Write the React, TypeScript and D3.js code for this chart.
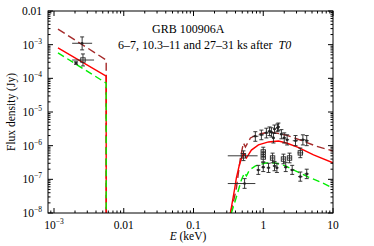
import React from 'react';
import * as d3 from 'd3';

// model curves [E keV, flux Jy]
const uvBrown = [[1.14e-3, 2.9e-3], [5.6e-3, 3.5e-4], [5.6e-3, 1e-9]];
const uvRed = [[1.14e-3, 8e-4], [5.6e-3, 1.17e-4], [5.6e-3, 1e-9]];
const uvGreen = [[1.14e-3, 5.7e-4], [5.6e-3, 7.2e-5], [5.6e-3, 1e-9]];

const xrBrown = [[0.338, 1e-8], [0.373, 2.1e-8], [0.412, 5.5e-8], [0.47, 4.3e-7], [0.52, 1.2e-6], [0.555, 9.1e-7],
  [0.655, 1.69e-6], [0.853, 2.2e-6], [1.27, 2.55e-6], [2.08, 2.08e-6], [3.42, 1.47e-6], [5.62, 9.8e-7], [10, 6.95e-7]];
const xrRed = [[0.338, 1e-8], [0.386, 4.8e-8], [0.412, 1.1e-7], [0.455, 2.7e-7], [0.52, 6.1e-7], [0.574, 4.3e-7],
  [0.612, 5.3e-7], [0.676, 7.4e-7], [0.853, 1.05e-6], [1.19, 1.29e-6], [1.65, 1.38e-6], [2.15, 1.2e-6],
  [3.1, 9.1e-7], [5.26, 5.3e-7], [10, 3.1e-7]];
const xrGreen = [[0.349, 1e-8], [0.399, 2.4e-8], [0.441, 4.8e-8], [0.486, 9.6e-8], [0.537, 1.55e-7], [0.574, 1.26e-7],
  [0.634, 1.9e-7], [0.773, 2.5e-7], [1.08, 3.06e-7], [1.5, 3.06e-7], [2.08, 2.5e-7], [2.9, 1.77e-7],
  [4.46, 1.17e-7], [6.64, 8.3e-8], [10, 5.5e-8]];

// data points [E, F, Elo, Ehi, Flo, Fhi]
const earlyPts = [
  [2.53e-3, 1.1e-3, 1.82e-3, 3.52e-3, 7e-4, 1.7e-3],
  [0.77, 1.9e-6, 0.7, 0.85, 1.35e-6, 2.6e-6], [0.94, 2.1e-6, 0.86, 1.02, 1.5e-6, 2.9e-6],
  [1.11, 2.4e-6, 1.03, 1.2, 1.7e-6, 3.3e-6], [1.23, 2.7e-6, 1.16, 1.3, 2e-6, 3.6e-6],
  [1.31, 2.5e-6, 1.25, 1.38, 1.8e-6, 3.4e-6], [1.45, 3.1e-6, 1.38, 1.52, 2.3e-6, 4.1e-6],
  [1.6, 3.4e-6, 1.52, 1.68, 2.6e-6, 4.4e-6], [1.65, 3.6e-6, 1.57, 1.74, 2.8e-6, 4.7e-6],
  [1.82, 2.2e-6, 1.72, 1.93, 1.6e-6, 3e-6], [1.4, 1.7e-6, 1.33, 1.47, 1.2e-6, 2.4e-6],
  [2.0, 1.7e-6, 1.88, 2.12, 1.2e-6, 2.4e-6], [2.2, 1.5e-6, 2.08, 2.35, 1.05e-6, 2.1e-6],
  [2.9, 1.4e-6, 2.65, 3.15, 1e-6, 2e-6], [3.7, 1.5e-6, 3.35, 4.05, 1.05e-6, 2.1e-6],
  [4.2, 1.4e-6, 3.95, 4.5, 1e-6, 2e-6],
];
const midPts = [
  [2.6e-3, 3.5e-4, 1.82e-3, 3.75e-3, 2.33e-4, 5.3e-4],
  [0.52, 5e-7, 0.31, 0.83, 3.6e-7, 7e-7], [3.4, 6.1e-7, 3.1, 3.75, 4.4e-7, 8.5e-7],
  [1.0, 6.5e-7, 0.94, 1.06, 4.7e-7, 9e-7], [1.0, 4.6e-7, 0.94, 1.06, 3.3e-7, 6.4e-7],
  [1.36, 4.3e-7, 1.28, 1.45, 3.1e-7, 6e-7], [1.95, 4.0e-7, 1.84, 2.07, 2.9e-7, 5.6e-7],
  [2.38, 4.3e-7, 2.22, 2.55, 3.1e-7, 6e-7],
];
const latePts = [
  [2.07e-3, 2.86e-4, 1.95e-3, 2.2e-3, 2.6e-4, 3.1e-4],
  [0.54, 7.5e-8, 0.31, 0.77, 5.4e-8, 1.05e-7], [0.85, 1.9e-7, 0.8, 0.91, 1.4e-7, 2.6e-7],
  [1.0, 2.3e-7, 0.94, 1.06, 1.7e-7, 3.2e-7], [1.19, 2.2e-7, 1.12, 1.26, 1.6e-7, 3e-7],
  [1.45, 2.5e-7, 1.37, 1.54, 1.8e-7, 3.4e-7], [1.57, 2.2e-7, 1.49, 1.66, 1.6e-7, 3e-7],
  [2.1, 2.3e-7, 1.98, 2.22, 1.7e-7, 3.2e-7], [2.6, 1.9e-7, 2.43, 2.78, 1.4e-7, 2.6e-7],
  [3.4, 1.2e-7, 3.15, 3.65, 8.8e-8, 1.65e-7], [4.2, 1.45e-7, 3.9, 4.5, 1.05e-7, 2e-7],
];

const xMajor = [1e-3, 0.01, 0.1, 1, 10];
const xLabels = ['10|−3', '0.01', '0.1', '1', '10'];
const yMajor = [1e-2, 1e-3, 1e-4, 1e-5, 1e-6, 1e-7, 1e-8];
const yLabels = ['0.01', '10|−3', '10|−4', '10|−5', '10|−6', '10|−7', '10|−8'];

const L = 48, R = 333, T = 11, B = 213;
const font = '"Liberation Serif", "DejaVu Serif", serif';

const x = d3.scaleLog().domain([8.2e-4, 10]).range([L, R]);
const y = d3.scaleLog().domain([1e-8, 1e-2]).range([B, T]);

const minor = (lo: number, hi: number, dom: number[]) => {
  const out: number[] = [];
  for (let d = lo; d <= hi; d++)
    for (let k = 2; k <= 9; k++) {
      const v = k * Math.pow(10, d);
      if (v > dom[0] && v < dom[1]) out.push(v);
    }
  return out;
};

const line = d3.line<number[]>().x(d => x(d[0])).y(d => y(d[1]));

const Label = ({ s, ...p }: any) => {
  const [base, sup] = s.split('|');
  return (
    <text fontFamily={font} fontSize={11.5} fill="#000" {...p}>
      {base}
      {sup && <tspan fontSize={7.5} dy={-5}>{sup}</tspan>}
    </text>
  );
};

const Points = ({ pts, square }: { pts: number[][]; square?: boolean }) => (
  <g stroke="#222" strokeWidth={0.9} fill="none">
    {pts.map((p, i) => {
      const cx = x(p[0]), cy = y(p[1]);
      const y0 = y(p[4]), y1 = y(p[5]);
      return (
        <g key={i}>
          <line x1={x(p[2])} x2={x(p[3])} y1={cy} y2={cy} />
          <line x1={cx} x2={cx} y1={y0} y2={y1} />
          <line x1={cx - 2} x2={cx + 2} y1={y0} y2={y0} />
          <line x1={cx - 2} x2={cx + 2} y1={y1} y2={y1} />
          {square ? <rect x={cx - 2.2} y={cy - 2.2} width={4.4} height={4.4} /> :
            <circle cx={cx} cy={cy} r={1.3} fill="#222" stroke="none" />}
        </g>
      );
    })}
  </g>
);

export default function App() {
  const xMin = minor(-4, 1, x.domain());
  const yMin = minor(-8, -3, y.domain());
  return (
    <svg width={374} height={246} style={{ position: 'absolute', left: 0, top: 0 }}>
      <rect width={374} height={246} fill="#fff" />
      <defs>
        <clipPath id="plot"><rect x={L} y={T} width={R - L} height={B - T} /></clipPath>
      </defs>
      <g clipPath="url(#plot)" fill="none" strokeWidth={1.4}>
        {[uvBrown, xrBrown].map((c, i) => <path key={'b' + i} d={line(c as any)!} stroke="#a52a2a" strokeDasharray="8,4" />)}
        {[uvRed, xrRed].map((c, i) => <path key={'r' + i} d={line(c as any)!} stroke="#ff0000" />)}
        {[uvGreen, xrGreen].map((c, i) => <path key={'g' + i} d={line(c as any)!} stroke="#00ee00" strokeDasharray="7,4" />)}
      </g>
      <g clipPath="url(#plot)">
        <Points pts={earlyPts} />
        <Points pts={midPts} square />
        <Points pts={latePts} />
      </g>
      <g stroke="#000" strokeWidth={1}>
        <rect x={L} y={T} width={R - L} height={B - T} fill="none" />
        {xMajor.map((v, i) => (
          <g key={i}>
            <line x1={x(v)} x2={x(v)} y1={B} y2={B - 5} />
            <line x1={x(v)} x2={x(v)} y1={T} y2={T + 5} />
          </g>
        ))}
        {xMin.map((v, i) => (
          <g key={i}>
            <line x1={x(v)} x2={x(v)} y1={B} y2={B - 2.5} />
            <line x1={x(v)} x2={x(v)} y1={T} y2={T + 2.5} />
          </g>
        ))}
        {yMajor.map((v, i) => (
          <g key={i}>
            <line x1={L} x2={L + 5} y1={y(v)} y2={y(v)} />
            <line x1={R} x2={R - 5} y1={y(v)} y2={y(v)} />
          </g>
        ))}
        {yMin.map((v, i) => (
          <g key={i}>
            <line x1={L} x2={L + 2.5} y1={y(v)} y2={y(v)} />
            <line x1={R} x2={R - 2.5} y1={y(v)} y2={y(v)} />
          </g>
        ))}
      </g>
      {xMajor.map((v, i) => (
        <Label key={i} s={xLabels[i]} x={x(v)} y={B + 16} textAnchor="middle" />
      ))}
      {yMajor.map((v, i) => (
        <Label key={i} s={yLabels[i]} x={L - 6} y={y(v) + 4} textAnchor="end" />
      ))}
      <text fontFamily={font} fontSize={11.5} x={188} y={240} textAnchor="middle">
        <tspan fontStyle="italic">E</tspan> (keV)
      </text>
      <text fontFamily={font} fontSize={11.5} transform={`translate(15,${(T + B) / 2}) rotate(-90)`} textAnchor="middle">
        Flux density (Jy)
      </text>
      <text fontFamily={font} fontSize={12} x={152} y={33}>GRB 100906A</text>
      <text fontFamily={font} fontSize={12} x={118} y={49}>
        6–7, 10.3–11 and 27–31 ks after <tspan fontStyle="italic" dx={3}>T0</tspan>
      </text>
    </svg>
  );
}
